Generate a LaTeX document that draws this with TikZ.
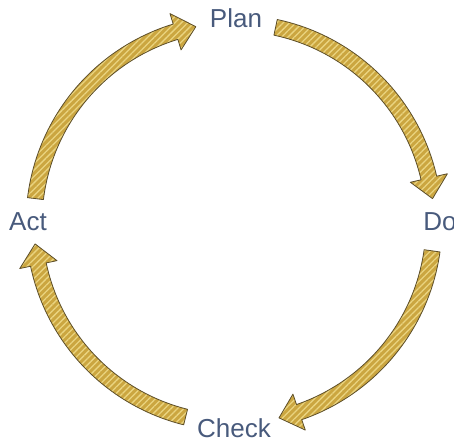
\documentclass[tikz,border=0pt]{standalone}
\usepackage{fontspec}
\setmainfont{Liberation Sans}
\usepackage{tikz}
\usetikzlibrary{patterns.meta,calc}
\definecolor{CycText}{RGB}{72,90,124}
\definecolor{CycFill}{RGB}{203,166,64}
\definecolor{CycHatch}{RGB}{234,212,128}
\definecolor{CycEdge}{RGB}{92,78,42}

% fat curved arrow round the centre (c): tail angle, tip angle (clockwise)
\newcommand{\cycarrow}[2]{%
  \pgfmathsetmacro{\hb}{#2+6}%
  \draw[ribbon] ([shift={(#1:208pt)}]c) arc[start angle=#1, end angle=\hb, radius=208pt]
    -- ([shift={(\hb:219pt)}]c) -- ([shift={(#2:200pt)}]c) -- ([shift={(\hb:181pt)}]c)
    -- ([shift={(\hb:192pt)}]c) arc[start angle=\hb, end angle=#1, radius=192pt] -- cycle;}

\begin{document}
\begin{tikzpicture}[x=1pt, y=1pt,
  lbl/.style={text=CycText, font=\fontsize{26}{30}\selectfont, inner sep=0pt},
  ribbon/.style={draw=CycEdge, line width=0.8pt, line join=round,
                 preaction={fill=CycFill},
                 pattern={Lines[angle=45, distance=4.5pt, line width=1.3pt]},
                 pattern color=CycHatch},
]
\useasboundingbox (0,0) rectangle (454,446);
\coordinate (c) at (234,223);

\node[lbl] (plan)  at ([shift={(2,205)}]c)   {Plan};
\node[lbl] (do)    at ([shift={(206,1)}]c)   {Do};
\node[lbl] (check) at ([shift={(0,-205)}]c)  {Check};
\node[lbl] (act)   at ([shift={(-206,1)}]c)  {Act};

\cycarrow{173}{101} % act -> plan
\cycarrow{78}{7}    % plan -> do
\cycarrow{-8}{-77}  % do -> check
\cycarrow{256}{186} % check -> act
\end{tikzpicture}
\end{document}
